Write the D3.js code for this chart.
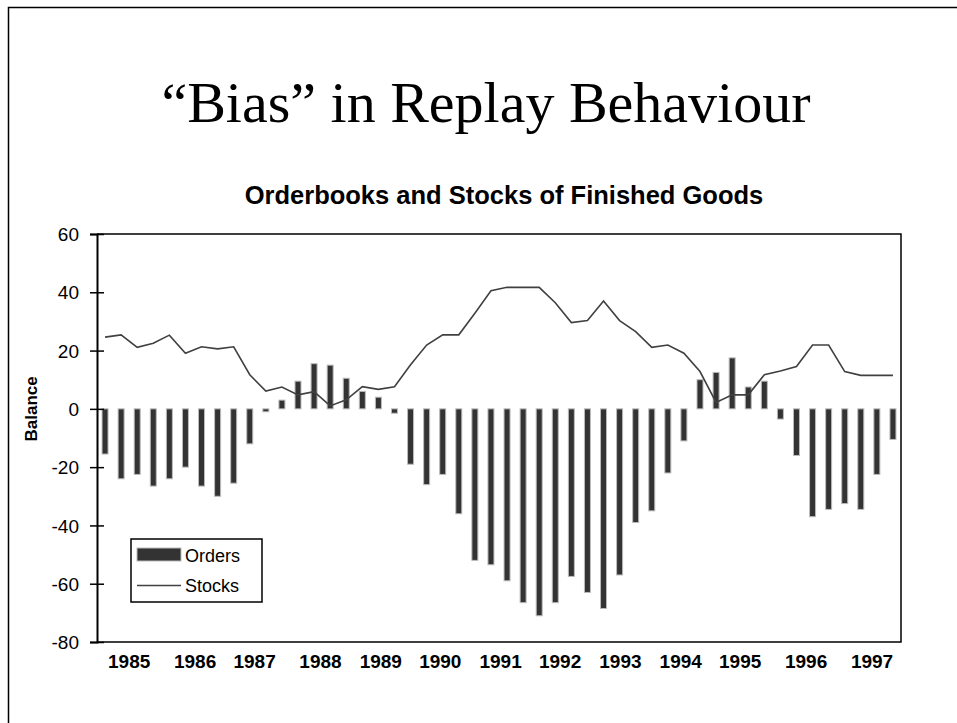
<!DOCTYPE html>
<html>
<head>
<meta charset="utf-8">
<script src="https://cdn.jsdelivr.net/npm/d3@7"></script>
<style>
  html, body { margin: 0; padding: 0; background: #fff; }
  svg { display: block; }
</style>
</head>
<body>
<svg id="chart" width="957" height="723"></svg>
<script>
// ---- data (quarterly, 1985 Q1 – 1997 Q2) ----
const quarters = d3.range(50); // quarter index 0..49
const orders = [
  -15.5, -24, -22.5, -26.5, -24, -20, -26.5, -30, -25.5, -12,
  -1, 3, 9.5, 15.5, 15, 10.5, 6, 4, -1.5, -19,
  -26, -22.5, -36, -52, -53.5, -59, -66.5, -71, -66.5, -57.5,
  -63, -68.5, -57, -39, -35, -22, -11, 10, 12.5, 17.5,
  7.5, 9.5, -3.5, -16, -37, -34.5, -32.5, -34.5, -22.5, -10.5
];
const stocks = [
  24.6, 25.4, 21.1, 22.5, 25.3, 19.1, 21.3, 20.6, 21.3, 11.7,
  6.1, 7.5, 4.8, 5.9, 1, 3.1, 7.6, 6.7, 7.6, 15.1,
  21.9, 25.4, 25.4, 32.8, 40.5, 41.7, 41.7, 41.7, 36.4, 29.6,
  30.3, 37, 30.3, 26.5, 21.1, 21.9, 19.1, 12.8, 2.2, 4.8,
  4.8, 11.7, 13, 14.5, 21.9, 21.9, 12.8, 11.5, 11.5, 11.5
];
const yearLabels = ["1985","1986","1987","1988","1989","1990","1991","1992","1993","1994","1995","1996","1997"];
const yearLabelPos = [1.5, 5.6, 9.3, 13.4, 17.15, 20.85, 24.6, 28.3, 32.05, 35.8, 39.5, 43.6, 47.7];
const yTicks = [60, 40, 20, 0, -20, -40, -60, -80];
const seriesNames = ["Orders", "Stocks"];

// ---- layout ----
const svg = d3.select("#chart");
const L = 97, R = 901, T = 234, B = 642;

const x = d3.scaleLinear().domain([-0.5, 49.5]).range([L, R]);
const y = d3.scaleLinear().domain([-80, 60]).range([B, T]);

// outer frame (slide border, only left & top visible)
svg.append("rect")
  .attr("x", 8.5).attr("y", 7.5)
  .attr("width", 1200).attr("height", 1200)
  .attr("fill", "none").attr("stroke", "#000").attr("stroke-width", 1.5);

// title
svg.append("text")
  .attr("x", 486).attr("y", 122)
  .attr("text-anchor", "middle")
  .attr("font-family", "'Liberation Serif', 'Times New Roman', serif")
  .attr("font-size", 58)
  .text("\u201CBias\u201D in Replay Behaviour");

svg.append("text")
  .attr("x", 504).attr("y", 204)
  .attr("text-anchor", "middle")
  .attr("font-family", "'Liberation Sans', Arial, sans-serif")
  .attr("font-weight", "bold")
  .attr("font-size", 25.5)
  .text("Orderbooks and Stocks of Finished Goods");

// plot border (top, right, bottom)
svg.append("path")
  .attr("d", `M${L},${T}H${R}V${B}H${L}`)
  .attr("fill", "none").attr("stroke", "#000").attr("stroke-width", 1.5);

// bars
const bw = 6;
svg.append("g").selectAll("rect")
  .data(quarters)
  .join("rect")
  .attr("x", i => x(i) - bw / 2)
  .attr("y", i => Math.min(y(orders[i]), y(0)))
  .attr("width", bw)
  .attr("height", i => Math.max(1, Math.abs(y(orders[i]) - y(0))))
  .attr("fill", "#333")
  .attr("stroke", "#bbb")
  .attr("stroke-width", 1);

// stocks line
svg.append("path")
  .datum(quarters)
  .attr("fill", "none")
  .attr("stroke", "#404040")
  .attr("stroke-width", 1.6)
  .attr("d", d3.line().x(i => x(i)).y(i => y(stocks[i])));

// y axis
const yAxis = svg.append("g")
  .attr("transform", `translate(${L},0)`)
  .call(d3.axisLeft(y).tickValues(yTicks).tickSize(7).tickPadding(11).tickFormat(d => String(d)));
yAxis.select(".domain").attr("stroke", "#000").attr("stroke-width", 2);
yAxis.selectAll(".tick line").attr("stroke", "#000").attr("stroke-width", 1.5).attr("x2", -7).attr("x1", 7);
yAxis.selectAll(".tick text")
  .attr("font-family", "'Liberation Sans', Arial, sans-serif")
  .attr("font-size", 19).attr("fill", "#000")
  .attr("dy", "0.35em");

// x labels
svg.append("g").selectAll("text")
  .data(yearLabels)
  .join("text")
  .attr("x", (d, i) => x(yearLabelPos[i]))
  .attr("y", 668)
  .attr("text-anchor", "middle")
  .attr("font-family", "'Liberation Sans', Arial, sans-serif")
  .attr("font-weight", "bold")
  .attr("font-size", 19)
  .text(d => d);

// y title
svg.append("text")
  .attr("transform", `translate(37,${y(0)}) rotate(-90)`)
  .attr("text-anchor", "middle")
  .attr("font-family", "'Liberation Sans', Arial, sans-serif")
  .attr("font-weight", "bold")
  .attr("font-size", 17)
  .text("Balance");

// legend
const lg = svg.append("g");
lg.append("rect")
  .attr("x", 131).attr("y", 539).attr("width", 131).attr("height", 63)
  .attr("fill", "#fff").attr("stroke", "#000").attr("stroke-width", 1.5);
lg.append("rect")
  .attr("x", 137).attr("y", 548).attr("width", 44).attr("height", 13)
  .attr("fill", "#333").attr("stroke", "#bbb").attr("stroke-width", 1);
lg.append("line")
  .attr("x1", 137).attr("x2", 181).attr("y1", 585.5).attr("y2", 585.5)
  .attr("stroke", "#404040").attr("stroke-width", 1.6);
lg.selectAll("text.lab")
  .data(seriesNames)
  .join("text")
  .attr("class", "lab")
  .attr("x", 185)
  .attr("y", (d, i) => 562 + i * 30)
  .attr("font-family", "'Liberation Sans', Arial, sans-serif")
  .attr("font-size", 18)
  .text(d => d);
</script>
</body>
</html>
